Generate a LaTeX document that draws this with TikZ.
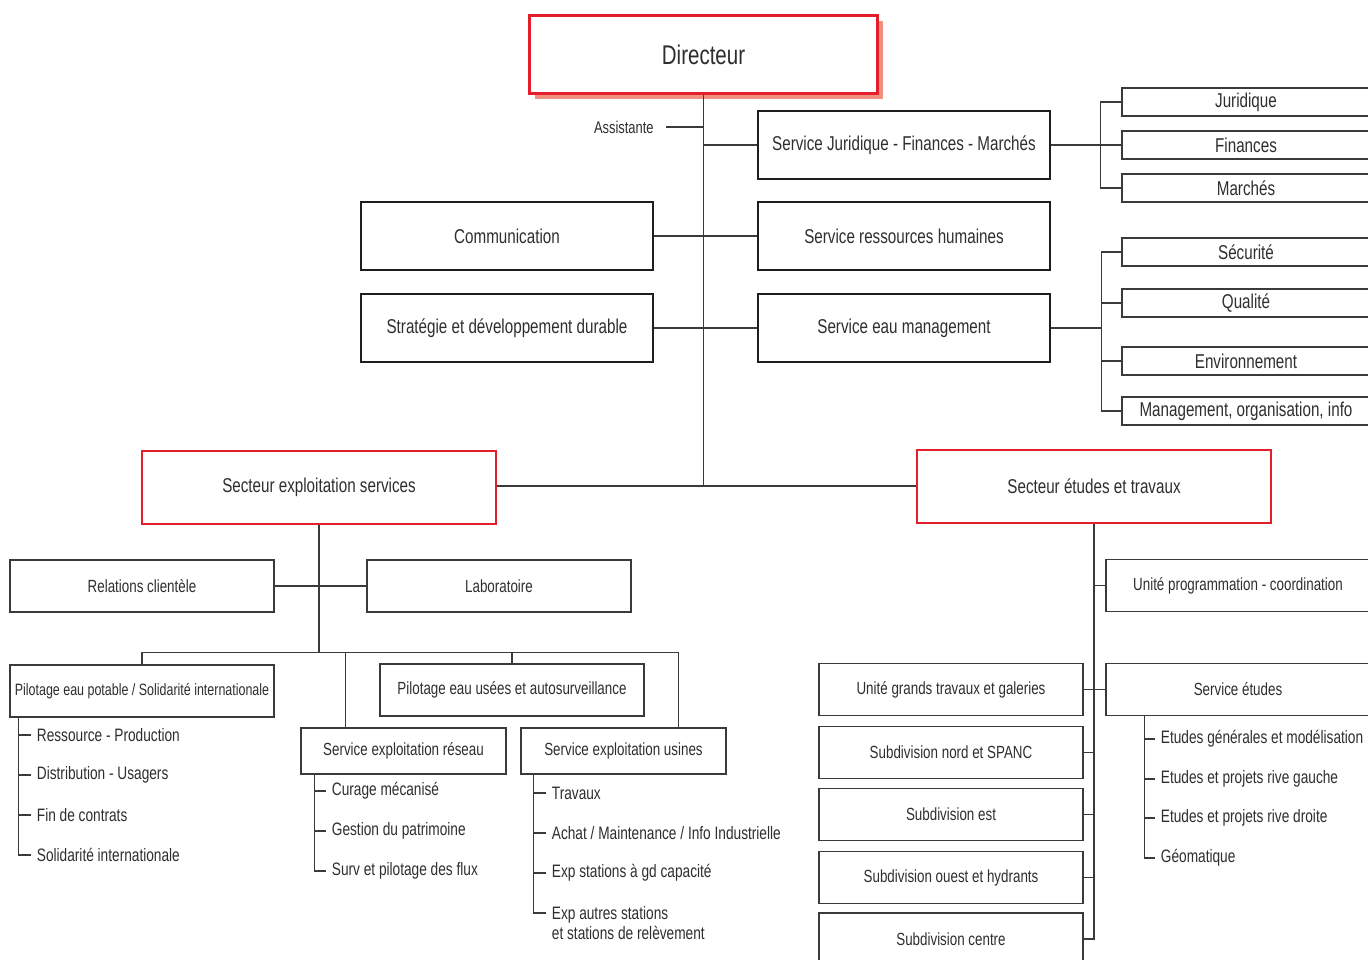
\documentclass[tikz,border=0pt]{standalone}
\usepackage{fontspec}
\setmainfont[FakeStretch=0.76]{Liberation Sans}
\usetikzlibrary{positioning, calc, shadows}
\definecolor{orgred}{HTML}{E41E2B}
\definecolor{orgshadow}{HTML}{F2907F}
\definecolor{orgtext}{HTML}{2E2E2E}
\definecolor{orgline}{HTML}{3A3A3A}
\definecolor{orgbox}{HTML}{1E1E1E}

\begin{document}
\begin{tikzpicture}[x=0.5pt, y=-0.5pt, text=orgtext,
    dirbox/.style={draw=orgred, line width=1.6pt, fill=white,
      minimum width=174pt, minimum height=39pt, font=\fontsize{13.5}{16}\selectfont,
      general shadow={fill=orgshadow, shadow xshift=2.8pt, shadow yshift=-2.8pt}},
    topbox/.style={draw=orgbox, line width=1.3pt, minimum width=146pt,
      minimum height=34pt, font=\fontsize{10}{12}\selectfont},
    subbox/.style={draw=orgline, line width=0.7pt, minimum width=124pt,
      minimum height=14pt, inner sep=1pt, font=\fontsize{10}{12}\selectfont},
    secbox/.style={draw=orgred, line width=1pt, minimum width=177pt,
      minimum height=36.5pt, font=\fontsize{10}{12}\selectfont},
    lowbox/.style={draw=orgline, line width=0.75pt, minimum width=132pt,
      minimum height=26pt, font=\fontsize{8.8}{10.5}\selectfont},
    expbox/.style={lowbox, minimum width=102.5pt, minimum height=23pt},
    listitem/.style={anchor=west, inner xsep=2.75pt, inner ysep=1pt,
      font=\fontsize{9}{10}\selectfont},
    conn/.style={draw=orgline, line width=0.65pt}]
  \useasboundingbox (0,0) rectangle (1368,959);

  % direction
  \node[dirbox] (dir) at (703.5,54.5) {Directeur};
  \node[font=\fontsize{8.5}{10}\selectfont, anchor=east, inner sep=0pt] (assist) at (654,127) {Assistante};
  \node[topbox] (sjfm) at (904,145) {Service Juridique - Finances - Marchés};
  \node[topbox] (srh) at (904,236) {Service ressources humaines};
  \node[topbox] (sem) at (904,328) {Service eau management};
  \node[topbox] (comm) at (507,236) {Communication};
  \node[topbox] (strat) at (507,328) {Stratégie et développement durable};

  \node[subbox] (jur) at (1246,102) {Juridique};
  \node[subbox] (fin) at (1246,145) {Finances};
  \node[subbox] (mar) at (1246,188) {Marchés};
  \node[subbox] (secu) at (1246,252) {Sécurité};
  \node[subbox] (qual) at (1246,303) {Qualité};
  \node[subbox] (env) at (1246,361) {Environnement};
  \node[subbox] (mgmt) at (1246,411) {Management, organisation, info};

  % secteurs
  \node[secbox] (ses) at (319,487) {Secteur exploitation services};
  \node[secbox] (set) at (1094,486) {Secteur études et travaux};

  % exploitation services
  \node[lowbox] (relcli) at (142,586) {Relations clientèle};
  \node[lowbox] (labo) at (499,586) {Laboratoire};
  \node[lowbox, inner xsep=1pt, font=\fontsize{8.2}{10}\selectfont] (pep) at (142,691) {Pilotage eau potable / Solidarité internationale};
  \node[lowbox] (peu) at (512,690) {Pilotage eau usées et autosurveillance};
  \node[expbox] (seres) at (403.5,751) {Service exploitation réseau};
  \node[expbox] (seusi) at (623.5,751) {Service exploitation usines};

  \node[listitem] (pep1) at (31,735) {Ressource - Production};
  \node[listitem] (pep2) at (31,775) {Distribution - Usagers};
  \node[listitem] (pep3) at (31,815) {Fin de contrats};
  \node[listitem] (pep4) at (31,855) {Solidarité internationale};

  \node[listitem] (res1) at (326,791) {Curage mécanisé};
  \node[listitem] (res2) at (326,831) {Gestion du patrimoine};
  \node[listitem] (res3) at (326,871) {Surv et pilotage des flux};

  \node[listitem] (usi1) at (546,793) {Travaux};
  \node[listitem] (usi2) at (546,833) {Achat / Maintenance / Info Industrielle};
  \node[listitem] (usi3) at (546,873) {Exp stations à gd capacité};
  \node[listitem, align=left] (usi4) at (546,923) {Exp autres stations\\et stations de relèvement};

  % etudes et travaux
  \node[lowbox] (upc) at (1238,585.5) {Unité programmation - coordination};
  \node[lowbox] (sae) at (1238,689.5) {Service études};
  \node[lowbox] (ugt) at (951,689.5) {Unité grands travaux et galeries};
  \node[lowbox] (snord) at (951,752.5) {Subdivision nord et SPANC};
  \node[lowbox] (sest) at (951,814.5) {Subdivision est};
  \node[lowbox] (souest) at (951,877.5) {Subdivision ouest et hydrants};
  \node[lowbox] (scentre) at (951,939) {Subdivision centre};

  \node[listitem] (sae1) at (1155,739) {Etudes générales et modélisation};
  \node[listitem] (sae2) at (1155,779) {Etudes et projets rive gauche};
  \node[listitem] (sae3) at (1155,818) {Etudes et projets rive droite};
  \node[listitem] (sae4) at (1155,858) {Géomatique};

  % liaisons direction
  \draw[conn] (dir.south) -- (dir.south |- set.west);
  \draw[conn] ($(assist.east)+(12,0)$) -- (assist.east -| dir.south);
  \draw[conn] (sjfm.west) -- (sjfm.west -| dir.south);
  \draw[conn] (comm.east) -- (srh.west);
  \draw[conn] (strat.east) -- (sem.west);
  \draw[conn] (ses.east |- set.west) -- (set.west);

  \coordinate (jbus) at ($(jur.west)+(-21,0)$);
  \draw[conn] (jbus) |- (mar.west);
  \draw[conn] (jbus) -- (jur.west);
  \draw[conn] (sjfm.east) -- (fin.west);

  \coordinate (ebus) at ($(secu.west)+(-20,0)$);
  \draw[conn] (ebus) |- (mgmt.west);
  \draw[conn] (ebus) -- (secu.west);
  \foreach \n in {qual, env}
    \draw[conn] (\n.west) -- (\n.west -| ebus);
  \draw[conn] (sem.east) -- (sem.east -| ebus);

  % liaisons exploitation services
  \coordinate (lbus) at ($(ses.south)+(0,128)$);
  \draw[conn] (ses.south) -- (lbus);
  \draw[conn] (relcli.east) -- (labo.west);
  \draw[conn] (pep.north) |- (lbus) -| ($(seusi.north east)+(-48,0)$);
  \draw[conn] (peu.north) -- (peu.north |- lbus);
  \draw[conn] ($(seres.north west)+(45,0)$) |- (lbus);

  \coordinate (pepsp) at ($(pep.south west)+(9,0)$);
  \draw[conn] (pepsp) |- (pep4.west);
  \foreach \i in {1,2,3}
    \draw[conn] (pep\i.west -| pepsp) -- (pep\i.west);

  \coordinate (ressp) at ($(seres.south west)+(14,0)$);
  \draw[conn] (ressp) |- (res3.west);
  \foreach \i in {1,2}
    \draw[conn] (res\i.west -| ressp) -- (res\i.west);

  \coordinate (usisp) at ($(seusi.south west)+(13,0)$);
  \draw[conn] (usisp) |- ($(usi4.west)+(0,-10)$);
  \foreach \i in {1,2,3}
    \draw[conn] (usi\i.west -| usisp) -- (usi\i.west);

  % liaisons etudes et travaux
  \draw[conn] (set.south) |- (scentre.east);
  \draw[conn] (upc.west) -- (upc.west -| set.south);
  \draw[conn] (ugt.east) -- (sae.west);
  \foreach \n in {snord, sest, souest}
    \draw[conn] (\n.east) -- (\n.east -| set.south);

  \coordinate (saesp) at ($(sae.south west)+(39,0)$);
  \draw[conn] (saesp) |- (sae4.west);
  \foreach \i in {1,2,3}
    \draw[conn] (sae\i.west -| saesp) -- (sae\i.west);
\end{tikzpicture}
\end{document}
